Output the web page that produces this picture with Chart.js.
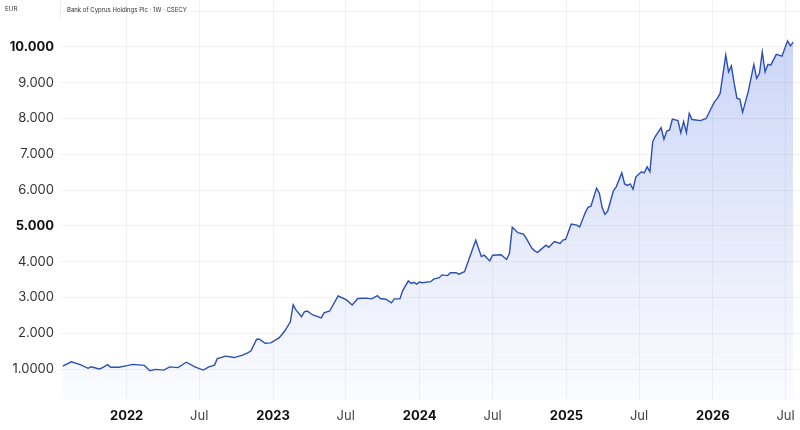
<!DOCTYPE html>
<html>
<head>
<meta charset="utf-8">
<script src="https://cdn.jsdelivr.net/npm/chart.js@4/dist/chart.umd.min.js"></script>
<style>
  html, body { margin: 0; padding: 0; background: #fff; }
  #wrap { position: relative; width: 800px; height: 430px; }
  .hdr { position: absolute; top: 5px; font: 6px "Inter", "Liberation Sans", sans-serif; color: #333; }
  #cur { left: 5px; font-size: 6.3px; }
  #title { left: 60px; top: 0; padding: 6px 0 0 6px; height: 12px; border-left: 1px solid #eee; }
</style>
</head>
<body>
<div id="wrap">
  <canvas id="priceChart" width="800" height="430"></canvas>
  <div class="hdr" id="cur">EUR</div>
  <div class="hdr" id="title">Bank of Cyprus Holdings Plc · 1W · CSECY</div>
</div>
<script>
// weekly closes, week offset from the first bar (2021-07-26)
const startDate = Date.UTC(2021, 6, 26);
const weeks = [0, 3, 6, 9, 10, 13, 14, 16, 17, 20, 22, 25, 29, 31, 33, 36, 38, 41, 44, 47,
  50, 52, 54, 55, 58, 61, 64, 66, 67, 69, 70, 72, 74, 77, 79, 81, 82, 83, 85, 86,
  87, 89, 92, 93, 95, 98, 101, 103, 105, 108, 110, 112, 113, 115, 117, 118, 120, 121, 123, 124,
  125, 126, 127, 128, 131, 132, 134, 135, 137, 138, 140, 141, 143, 147, 149, 150, 152, 153, 156, 158,
  159, 160, 162, 164, 165, 167, 168, 169, 172, 173, 175, 177, 178, 179, 181, 183, 184, 186, 187, 188,
  190, 191, 192, 193, 194, 196, 197, 199, 200, 201, 202, 203, 204, 206, 207, 208, 209, 210, 211, 213,
  214, 215, 216, 217, 219, 220, 221, 222, 223, 224, 227, 229, 232, 233, 234, 236, 237, 238, 239, 240,
  241, 242, 244, 246, 247, 248, 249, 250, 251, 252, 254, 256, 258, 259, 260];
const prices = [1.08, 1.20, 1.13, 1.02, 1.06, 1.00, 1.03, 1.12, 1.05, 1.05, 1.08, 1.13, 1.10, 0.95, 0.99, 0.97, 1.06, 1.04, 1.19, 1.06,
  0.97, 1.06, 1.11, 1.29, 1.36, 1.32, 1.39, 1.46, 1.51, 1.83, 1.83, 1.72, 1.73, 1.87, 2.06, 2.32, 2.79, 2.65, 2.46, 2.60,
  2.62, 2.51, 2.43, 2.57, 2.62, 3.04, 2.93, 2.79, 2.97, 2.98, 2.96, 3.05, 2.97, 2.95, 2.85, 2.96, 2.96, 3.19, 3.46, 3.39,
  3.42, 3.37, 3.43, 3.41, 3.44, 3.51, 3.55, 3.63, 3.61, 3.69, 3.69, 3.65, 3.72, 4.60, 4.14, 4.18, 4.02, 4.18, 4.19, 4.06,
  4.23, 4.96, 4.81, 4.77, 4.65, 4.37, 4.30, 4.26, 4.46, 4.40, 4.56, 4.51, 4.60, 4.62, 5.05, 5.02, 4.97, 5.37, 5.52, 5.55,
  6.05, 5.91, 5.51, 5.32, 5.42, 5.98, 6.09, 6.48, 6.17, 6.13, 6.17, 6.02, 6.37, 6.51, 6.48, 6.65, 6.51, 7.35, 7.51, 7.74,
  7.42, 7.65, 7.68, 7.98, 7.94, 7.60, 7.91, 7.60, 8.14, 7.97, 7.94, 8.00, 8.47, 8.56, 8.70, 9.77, 9.30, 9.47, 8.98, 8.56,
  8.54, 8.17, 8.75, 9.51, 9.12, 9.26, 9.86, 9.30, 9.51, 9.49, 9.79, 9.74, 10.17, 10.03, 10.13];

const yTicks = [1, 2, 3, 4, 5, 6, 7, 8, 9, 10, 11];
const boldYTicks = [5, 10];
const xTickYears = [2022, 2023, 2024, 2025, 2026];

const WEEK = 7 * 86400000;
const points = weeks.map((w, i) => ({ x: startDate + w * WEEK, y: prices[i] }));

const isYear = (c) => c.tick && new Date(c.tick.value).getUTCMonth() === 0;
const isBoldY = (c) => c.tick && boldYTicks.includes(c.tick.value);

const ctx = document.getElementById("priceChart").getContext("2d");
const lineColor = "#2b4fb3";

new Chart(ctx, {
  type: "line",
  data: {
    datasets: [
      {
        label: "CSECY",
        data: points,
        borderColor: lineColor,
        borderWidth: 1.4,
        pointRadius: 0,
        tension: 0,
        fill: "start",
        backgroundColor: (c) => {
          const area = c.chart.chartArea;
          if (!area) return "rgba(66,103,226,0.15)";
          const g = c.chart.ctx.createLinearGradient(0, area.top, 0, area.bottom);
          g.addColorStop(0, "rgba(66,103,226,0.30)");
          g.addColorStop(1, "rgba(66,103,226,0.02)");
          return g;
        },
      },
    ],
  },
  options: {
    responsive: false,
    animation: false,
    layout: { padding: 0 },
    plugins: { legend: { display: false }, tooltip: { enabled: false } },
    scales: {
      x: {
        type: "linear",
        min: Date.UTC(2021, 6, 19),
        max: Date.UTC(2026, 7, 6),
        afterBuildTicks: (scale) => {
          const t = [];
          xTickYears.forEach((y) => {
            t.push({ value: Date.UTC(y, 0, 1) });
            t.push({ value: Date.UTC(y, 6, 1) });
          });
          scale.ticks = t;
        },
        afterFit: (scale) => {
          scale.height = 30;
          scale.paddingLeft = 0;
          scale.paddingRight = 0;
        },
        border: { display: false },
        grid: { color: "rgba(0,0,0,0.05)", drawTicks: false },
        ticks: {
          autoSkip: false,
          maxRotation: 0,
          padding: 8,
          callback: (v) => {
            const d = new Date(v);
            return d.getUTCMonth() === 0 ? String(d.getUTCFullYear()) : "Jul";
          },
          color: (c) => (isYear(c) ? "#111" : "#444"),
          font: (c) => ({ family: "Inter", size: 13, weight: isYear(c) ? "bold" : "normal" }),
        },
      },
      y: {
        min: 0.134,
        max: 11.31,
        afterBuildTicks: (scale) => { scale.ticks = yTicks.map((v) => ({ value: v })); },
        afterFit: (scale) => {
          scale.width = 60;
          scale.paddingTop = 0;
          scale.paddingBottom = 0;
        },
        border: { display: false },
        grid: { color: "rgba(0,0,0,0.05)", drawTicks: false },
        ticks: {
          autoSkip: false,
          padding: 6,
          callback: (v) => (v === 11 ? "" : v === 1 ? "1.0000" : v + ".000"),
          color: (c) => (isBoldY(c) ? "#111" : "#333"),
          font: (c) => ({ family: "Inter", size: 13, weight: isBoldY(c) ? "bold" : "normal" }),
        },
      },
    },
  },
});
</script>
</body>
</html>
